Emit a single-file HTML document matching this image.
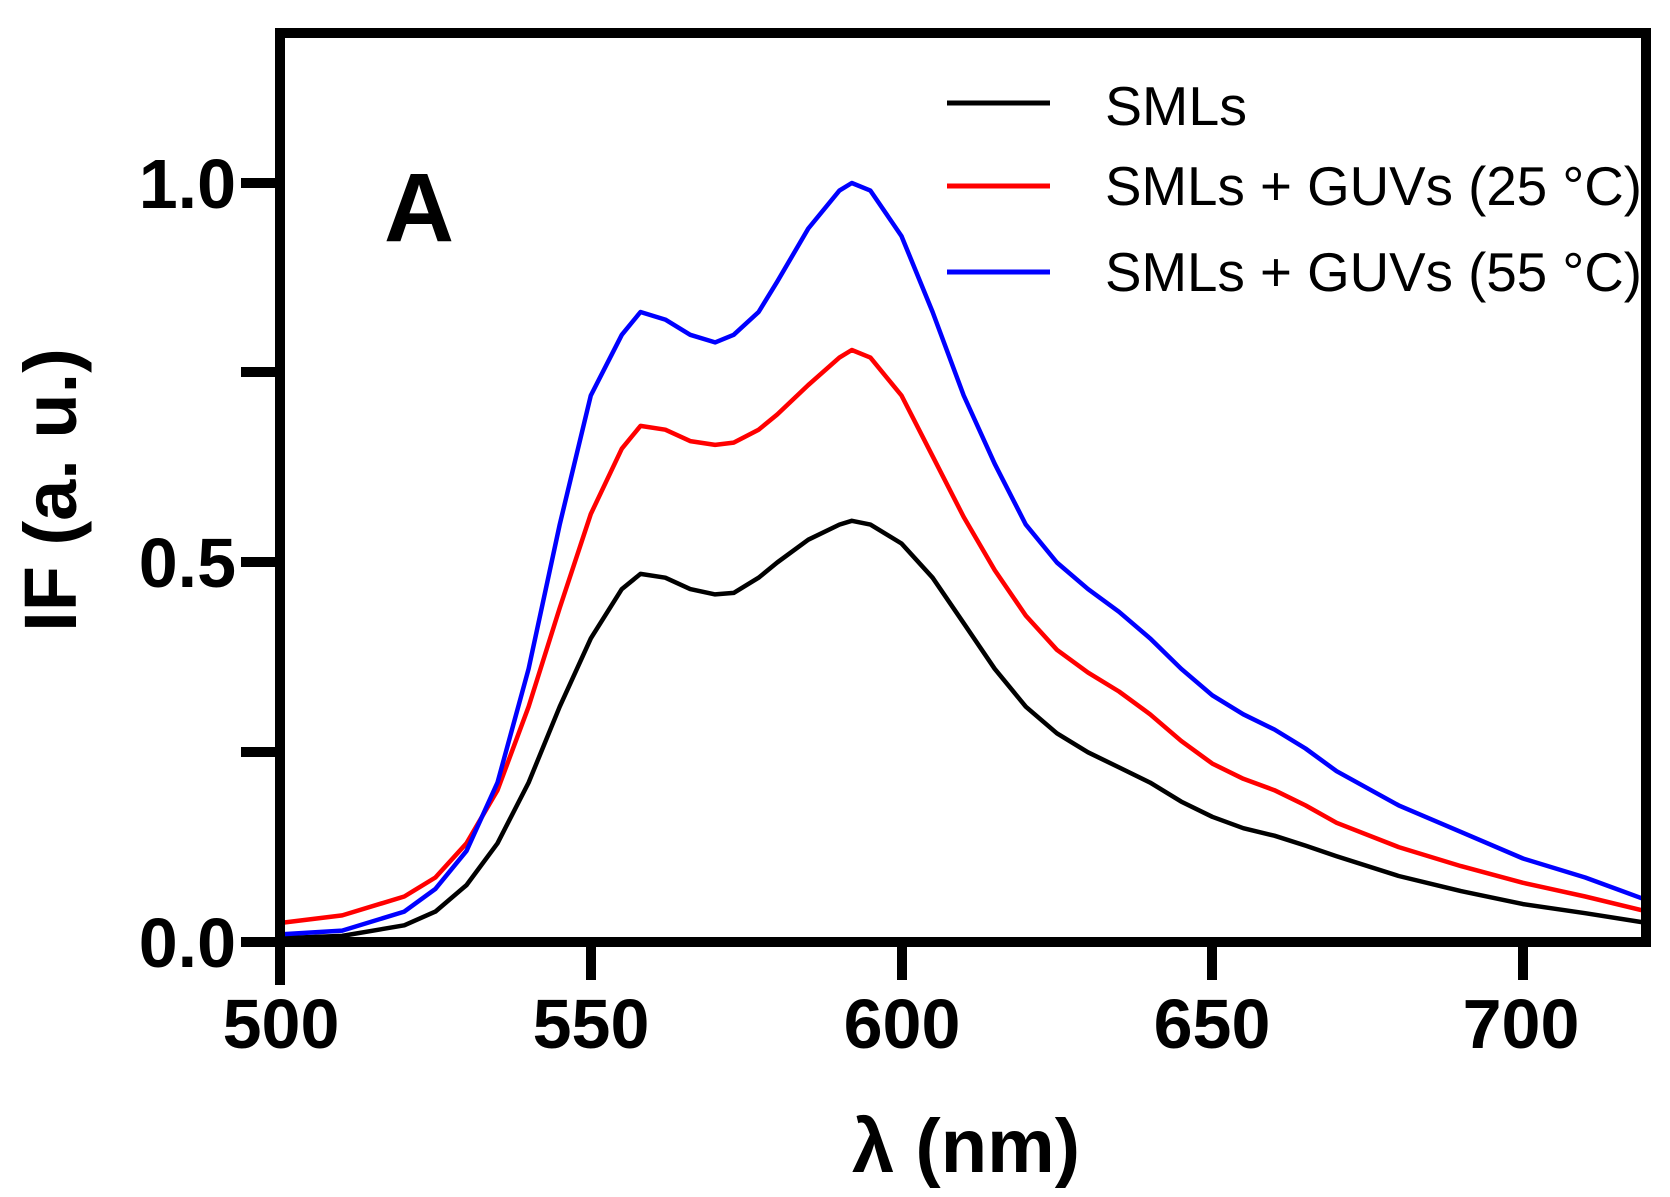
<!DOCTYPE html>
<html><head><meta charset="utf-8"><style>html,body{margin:0;padding:0;background:#fff}svg{display:block}</style></head>
<body>
<svg width="1670" height="1197" viewBox="0 0 1670 1197" xmlns="http://www.w3.org/2000/svg" font-family="Liberation Sans, Arial, sans-serif">
<rect width="1670" height="1197" fill="#fff"/>
<g fill="none" stroke-width="4.5" stroke-linejoin="round" stroke-linecap="round">
<polyline stroke="#000" points="280,938.2 342.2,935.9 404.3,925.3 435.4,911.6 466.5,885.1 497.5,843.3 528.6,782.6 559.7,706.7 590.8,638.4 621.8,589.1 640.5,573.9 665.3,577.7 690.2,589.1 715.1,594.4 733.7,592.9 758.6,577.7 777.2,562.5 808.3,539.7 839.4,524.6 851.8,520.8 870.4,524.6 901.5,543.5 932.6,577.7 963.7,623.2 994.7,668.8 1025.8,706.7 1056.9,733.3 1088,752.3 1119,767.4 1150.1,782.6 1181.2,801.6 1212.3,816.8 1243.3,828.2 1274.4,835.7 1305.5,845.6 1336.6,856.2 1398.7,876 1460.9,891.1 1523,904.1 1585.2,913.2 1647.3,923"/>
<polyline stroke="#f00" points="280,923 342.2,915.4 404.3,896.5 435.4,877.5 466.5,843.3 497.5,790.2 528.6,706.7 559.7,608 590.8,514 621.8,448.7 640.5,425.9 665.3,429.7 690.2,441.1 715.1,444.9 733.7,442.6 758.6,429.7 777.2,414.5 808.3,385 839.4,357.6 851.8,350 870.4,357.6 901.5,395.5 932.6,456.2 963.7,517 994.7,570.1 1025.8,615.6 1056.9,649.8 1088,672.6 1119,691.5 1150.1,714.3 1181.2,740.9 1212.3,763.6 1243.3,778.8 1274.4,790.2 1305.5,805.4 1336.6,822.8 1398.7,847.1 1460.9,866.1 1523,882.8 1585.2,896.5 1647.3,911.6"/>
<polyline stroke="#00f" points="280,934.4 342.2,930.6 404.3,911.6 435.4,888.9 466.5,850.9 497.5,782.6 528.6,668.8 559.7,524.6 590.8,395.5 621.8,334.8 640.5,312 665.3,319.6 690.2,334.8 715.1,342.4 733.7,334.8 758.6,312 777.2,281.7 808.3,228.5 839.4,190.6 851.8,183 870.4,190.6 901.5,236.1 932.6,312 963.7,395.5 994.7,463.8 1025.8,524.6 1056.9,562.5 1088,589.1 1119,611.8 1150.1,638.4 1181.2,668.8 1212.3,695.3 1243.3,714.3 1274.4,729.5 1305.5,748.5 1336.6,771.2 1398.7,805.4 1460.9,831.9 1523,858.5 1585.2,877.5 1647.3,900.3"/>
</g>
<g stroke="#000" stroke-width="10" fill="none">
<path d="M280,33 H1646 V942 M280,28 V985 M275,942 H1651"/>
<path d="M241,942 H280 M241,752 H280 M241,562 H280 M241,372 H280 M241,183 H280"/>
<path d="M591,942 V980 M902,942 V980 M1212,942 V980 M1523,942 V980"/>
</g>
<g font-weight="bold" font-size="70" text-anchor="end">
<text x="236" y="208">1.0</text>
<text x="236" y="587">0.5</text>
<text x="236" y="967">0.0</text>
</g>
<g font-weight="bold" font-size="70" text-anchor="middle">
<text x="281" y="1048">500</text>
<text x="591" y="1048">550</text>
<text x="902" y="1048">600</text>
<text x="1212" y="1048">650</text>
<text x="1521" y="1048">700</text>
<text x="966" y="1172" font-size="76">λ (nm)</text>
<text transform="translate(76,490) rotate(-90)" font-size="74">IF (a. u.)</text>
</g>
<text x="384" y="241" font-weight="bold" font-size="97">A</text>
<g stroke-width="5">
<line x1="947" y1="103" x2="1050" y2="103" stroke="#000"/>
<line x1="947" y1="186" x2="1050" y2="186" stroke="#f00"/>
<line x1="947" y1="272" x2="1050" y2="272" stroke="#00f"/>
</g>
<g font-size="55">
<text x="1105" y="125" textLength="142" lengthAdjust="spacingAndGlyphs">SMLs</text>
<text x="1105" y="205" textLength="537" lengthAdjust="spacingAndGlyphs">SMLs + GUVs (25 °C)</text>
<text x="1105" y="291" textLength="537" lengthAdjust="spacingAndGlyphs">SMLs + GUVs (55 °C)</text>
</g>
</svg>
</body></html>
